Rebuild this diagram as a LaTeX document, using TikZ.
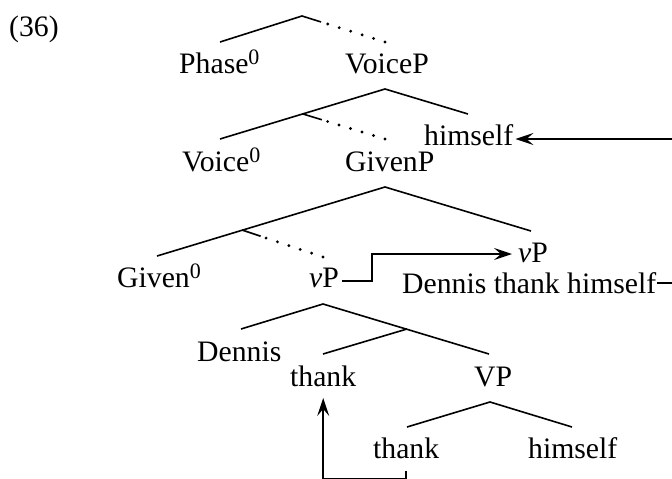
\documentclass[tikz,border=0pt]{standalone}
\usepackage{fontspec}
\setmainfont{Liberation Serif}
\usetikzlibrary{arrows.meta,calc}
\newcommand\dotbranch[2]{%
  \draw[br] (#1) -- ($(#1)!0.23!(#2)$);
  \draw[dotbr] (#2) -- ($(#1)!0.29!(#2)$);}
\newcommand\supzero{\raisebox{9pt}{\fontsize{22}{22}\selectfont 0}}
\begin{document}
\begin{tikzpicture}[x=1pt,y=-1pt,
  lab/.style={inner sep=0pt, anchor=base west, font=\fontsize{29.7}{35}\selectfont},
  br/.style={line width=1.6pt},
  dotbr/.style={line width=3.2pt, line cap=round, dash pattern=on 0pt off 12pt},
  arr/.style={line width=1.6pt, -{Stealth[length=18pt,width=12pt,inset=7pt]}}]
\useasboundingbox (0,0) rectangle (672,479);
\clip (0,0) rectangle (672,479);

% labels
\node[lab] (ex) at (9,36) {(36)};
\node[lab] (phase) at (179,73) {Phase\supzero};
\node[lab] (voiceP) at (345,73) {VoiceP};
\node[lab] (him1) at (424,145) {himself};
\node[lab] (voice0) at (182,171) {Voice\supzero};
\node[lab] (givenP) at (345,171) {GivenP};
\node[lab] (given0) at (117,287) {Given\supzero};
\node[lab] (vPl) at (309,287) {\textit{v}P};
\node[lab] (vPu) at (518,262) {\textit{v}P};
\node[lab] (dth) at (402,293) {Dennis thank himself};
\node[lab] (dennis) at (197,361) {Dennis};
\node[lab] (thank1) at (290,386) {thank};
\node[lab] (VP) at (474,386) {VP};
\node[lab] (thank2) at (373,458) {thank};
\node[lab] (him2) at (528,458) {himself};

% tree points
\coordinate (r0) at (302,16);
\coordinate (phT) at (220,42);
\coordinate (vpT) at (385,42);
\coordinate (v0) at (385,89);
\coordinate (v1) at (303,114);
\coordinate (h1T) at (468,114);
\coordinate (voT) at (220,139);
\coordinate (gpT) at (385,139);
\coordinate (g0) at (385,187);
\coordinate (g1) at (242,230);
\coordinate (vuT) at (531,231);
\coordinate (gvT) at (157,256);
\coordinate (vlT) at (323,257);
\coordinate (p0) at (323,304);
\coordinate (p1) at (407,329);
\coordinate (deT) at (241,329);
\coordinate (t1T) at (323,354);
\coordinate (VPT) at (489,354);
\coordinate (q0) at (490,402);
\coordinate (t2T) at (407,427);
\coordinate (h2T) at (572,427);

% branches
\draw[br] (phT) -- (r0);
\dotbranch{r0}{vpT}
\draw[br] (voT) -- (v0) -- (h1T);
\dotbranch{v1}{gpT}
\draw[br] (gvT) -- (g0) -- (vuT);
\dotbranch{g1}{vlT}
\draw[br] (deT) -- (p0) -- (VPT);
\draw[br] (p1) -- (t1T);
\draw[br] (t2T) -- (q0) -- (h2T);

% movement arrows
\coordinate (e1) at (372,254);
\coordinate (e2) at (700,283);
\coordinate (e3) at (360,479.2);
\draw[arr] ([xshift=3pt,yshift=6pt]vPl.base east) -| (e1) -- ([xshift=-6pt,yshift=8pt]vPu.base west);
\draw[arr] ([xshift=1pt,yshift=10pt]dth.base east) -- (e2) |- ([xshift=2pt,yshift=6pt]him1.base east);
\draw[arr] ([yshift=-13pt]thank2.base) |- (e3) -| ([yshift=-12pt]thank1.base);
\end{tikzpicture}
\end{document}
